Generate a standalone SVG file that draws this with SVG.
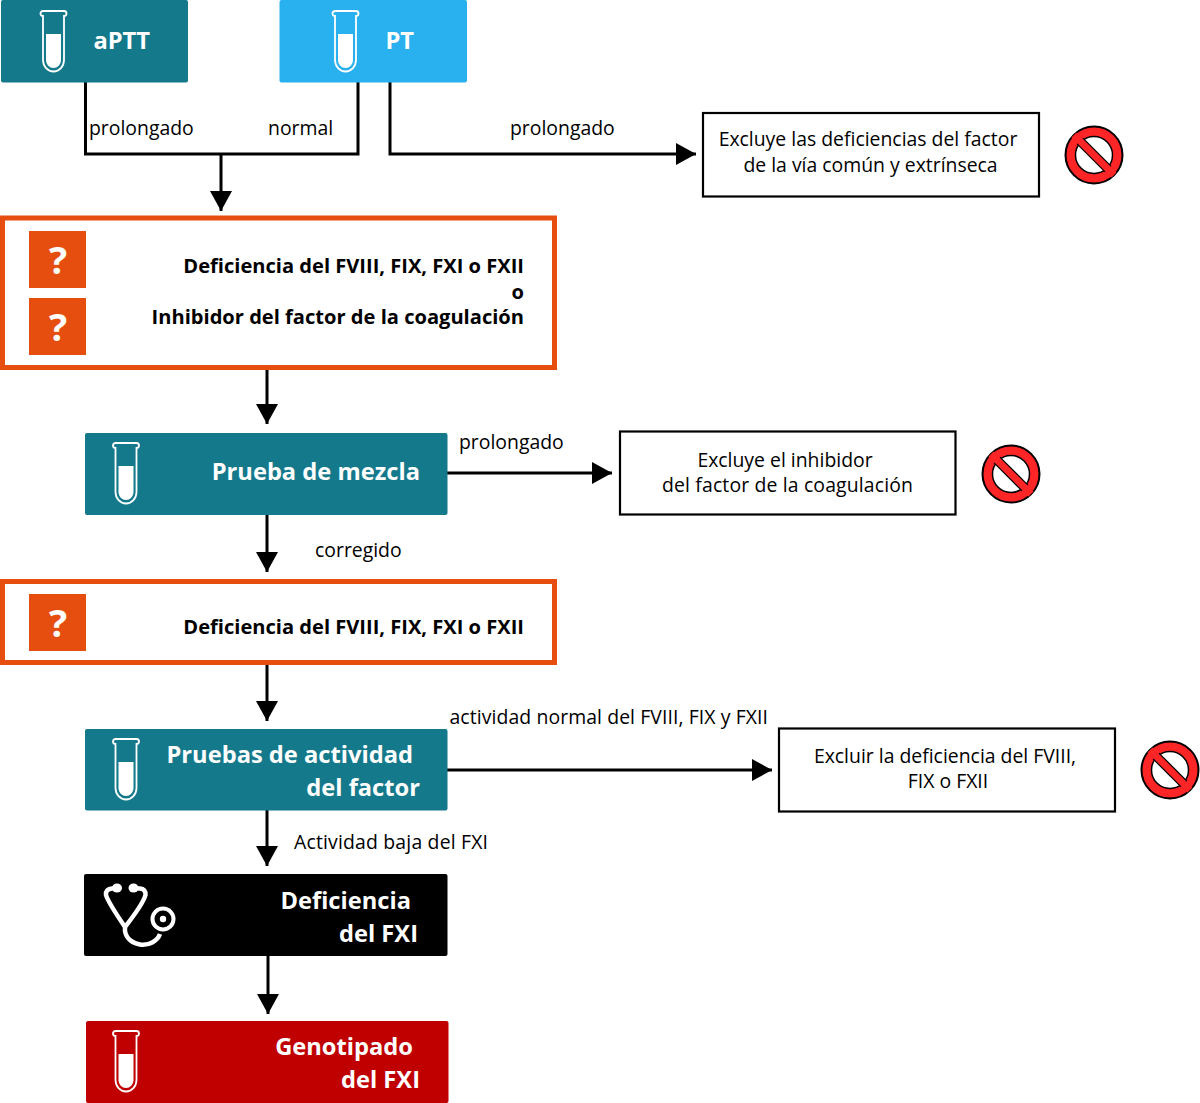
<svg xmlns="http://www.w3.org/2000/svg" width="1200" height="1103" viewBox="0 0 1200 1103">
<style>
text{font-family:"Open Sans","Noto Sans","Liberation Sans",sans-serif}
.l{font-size:19.400px;fill:#000}
.b{font-size:20.100px;font-weight:700;fill:#000;text-anchor:end}
.w{font-size:23.700px;font-weight:700;fill:#fff;text-anchor:end}
.m{text-anchor:middle}
.c{fill:none;stroke:#000;stroke-width:3}
.o{fill:#fff;stroke:#e64e10;stroke-width:5}
.q{fill:#e64e10}
.qt{font-size:38px;font-weight:700;fill:#fff;text-anchor:middle}
.x{fill:#fff;stroke:#000;stroke-width:2.200}
</style>
<defs>
<g id="tube">
<path d="M-10.500 6H-10.500A2.500 2.500 0 0 1-10.500 1H10.500A2.500 2.500 0 0 1 10.500 6V50A10.500 11.500 0 0 1-10.500 50V6Z" fill="none" stroke="#fff" stroke-width="1.800"/>
<path d="M-7.500 24H7.500V50.500A7.500 7.500 0 0 1-7.500 50.500Z" fill="#fff"/>
</g>
<g id="no">
<circle r="28.500" fill="#fd2525" stroke="#000" stroke-width="2"/>
<circle r="18.500" fill="#fff" stroke="#000" stroke-width="1.500"/>
<path d="M-14-14L14 14" stroke="#000" stroke-width="9.500"/>
<path d="M-20-20L20 20" stroke="#fd2525" stroke-width="7"/>
</g>
<marker id="a" markerUnits="userSpaceOnUse" markerWidth="22" markerHeight="22" refX="20" refY="11" orient="auto"><path d="M0 0L20 11L0 22Z" fill="#000"/></marker>
</defs>
<g id="connectors">
<path class="c" d="M85.500 82V154H358V82"/>
<path class="c" d="M221 154V211" marker-end="url(#a)"/>
<path class="c" d="M390 82V154H696" marker-end="url(#a)"/>
<path class="c" d="M267 369V424" marker-end="url(#a)"/>
<path class="c" d="M447 473H612" marker-end="url(#a)"/>
<path class="c" d="M267 515V572" marker-end="url(#a)"/>
<path class="c" d="M267 664V721" marker-end="url(#a)"/>
<path class="c" d="M447 770H772" marker-end="url(#a)"/>
<path class="c" d="M267 810V866" marker-end="url(#a)"/>
<path class="c" d="M268 956V1014" marker-end="url(#a)"/>
<text class="l" x="89" y="135">prolongado</text>
<text class="l" x="268" y="135">normal</text>
<text class="l" x="510" y="135">prolongado</text>
<text class="l" x="459" y="449">prolongado</text>
<text class="l" x="315" y="557">corregido</text>
<text class="l" x="449.500" y="724" textLength="318.500">actividad normal del FVIII, FIX y FXII</text>
<text class="l" x="294" y="849" textLength="194">Actividad baja del FXI</text>
</g>
<g id="aptt"><rect x="1" y="0" width="187" height="82.500" rx="2" fill="#15798c"/><use href="#tube" x="53.500" y="10"/><text class="w" x="150" y="48.500">aPTT</text></g>
<g id="pt"><rect x="279.500" y="0" width="187.500" height="82.500" rx="2" fill="#29b0ee"/><use href="#tube" x="345.500" y="10"/><text class="w" x="414" y="48.500">PT</text></g>
<g id="excl1"><rect class="x" x="703" y="113" width="336" height="83.500"/><text class="l m" x="868" y="146">Excluye las deficiencias del factor</text><text class="l m" x="870.500" y="172">de la vía común y extrínseca</text></g>
<g id="no1"><use href="#no" x="1094" y="155"/></g>
<g id="q1"><rect class="o" x="2.500" y="218" width="552" height="149.500"/><rect class="q" x="29" y="231" width="57" height="57"/><text class="qt" x="58" y="274">?</text><rect class="q" x="29" y="298" width="57" height="57"/><text class="qt" x="58" y="341">?</text><text class="b" x="524" y="272.500">Deficiencia del FVIII, FIX, FXI o FXII</text><text class="b" x="524" y="298.500">o</text><text class="b" x="524" y="323.500">Inhibidor del factor de la coagulación</text></g>
<g id="mezcla"><rect x="85" y="433" width="362.500" height="82" rx="2" fill="#15798c"/><use href="#tube" x="126" y="442"/><text class="w" x="420" y="479.500">Prueba de mezcla</text></g>
<g id="excl2"><rect class="x" x="620" y="431.500" width="335.500" height="83"/><text class="l m" x="785" y="466.500">Excluye el inhibidor</text><text class="l m" x="787.500" y="491.500" textLength="251">del factor de la coagulación</text></g>
<g id="no2"><use href="#no" x="1011" y="474"/></g>
<g id="q2"><rect class="o" x="2.500" y="581.500" width="552" height="81"/><rect class="q" x="29" y="594" width="57" height="57"/><text class="qt" x="58" y="637">?</text><text class="b" x="524" y="633.500">Deficiencia del FVIII, FIX, FXI o FXII</text></g>
<g id="actividad"><rect x="85" y="729" width="362.500" height="81.500" rx="2" fill="#15798c"/><use href="#tube" x="126" y="738"/><text class="w" x="413" y="762.500">Pruebas de actividad</text><text class="w" x="420" y="795.500">del factor</text></g>
<g id="excl3"><rect class="x" x="779" y="728.500" width="336" height="83"/><text class="l m" x="945" y="762.500">Excluir la deficiencia del FVIII,</text><text class="l m" x="948" y="787.500">FIX o FXII</text></g>
<g id="no3"><use href="#no" x="1170" y="770"/></g>
<g id="def"><rect x="84" y="874" width="363.500" height="82" rx="2" fill="#000"/>
<path d="M117 888.500H112Q105.500 889 106 895Q108 902 125 927V931A18 15.500 0 0 0 160 934M134 888.500H140Q146 889 145.500 895Q143 904 125 927" fill="none" stroke="#fff" stroke-width="4.500"/>
<ellipse cx="117" cy="888" rx="5" ry="4.500" fill="#fff"/><ellipse cx="133.500" cy="888" rx="5" ry="4.500" fill="#fff"/>
<circle cx="163" cy="919" r="10.500" fill="none" stroke="#fff" stroke-width="4"/><circle cx="163" cy="919" r="3.200" fill="#fff"/>
<text class="w" x="411" y="908.500">Deficiencia</text><text class="w" x="418" y="941.500">del FXI</text></g>
<g id="geno"><rect x="86" y="1021" width="362.500" height="82" rx="2" fill="#c00000"/><use href="#tube" x="126" y="1030"/><text class="w" x="413" y="1054.500">Genotipado</text><text class="w" x="420" y="1087.500">del FXI</text></g>
</svg>
